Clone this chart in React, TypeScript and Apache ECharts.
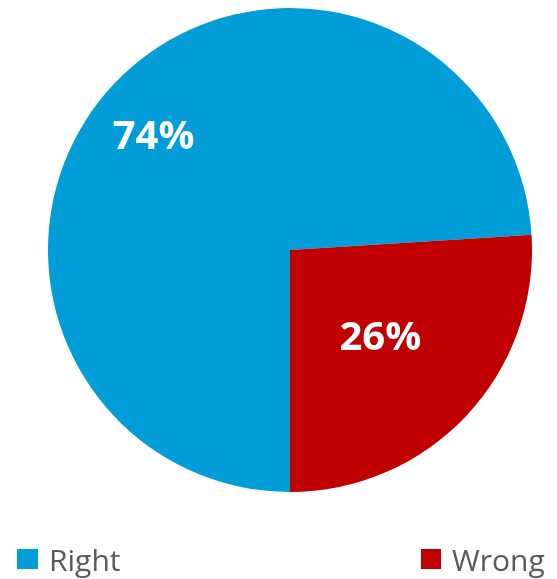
import React, { useEffect, useRef } from "react";
import * as echarts from "echarts";

const categories = ["Right", "Wrong"];
const values = [74, 26];
const colors = ["#009DD9", "#C00000"];

export default function App() {
  const ref = useRef<HTMLDivElement>(null);
  useEffect(() => {
    if (!ref.current) return;
    const chart = echarts.init(ref.current, null, { renderer: "svg" });
    const legendText = {
      color: "#595959",
      fontSize: 30,
      fontFamily: "Open Sans",
      lineHeight: 30,
      padding: [0, 0, 0, 6],
    };
    chart.setOption({
      animation: false,
      color: colors,
      legend: [
        {
          data: [categories[0]],
          left: 17,
          top: 544,
          padding: 0,
          itemWidth: 21,
          itemHeight: 20,
          icon: "rect",
          textStyle: legendText,
          selectedMode: false,
        },
        {
          data: [categories[1]],
          left: 421,
          top: 544,
          padding: 0,
          itemWidth: 20,
          itemHeight: 20,
          icon: "rect",
          textStyle: legendText,
          selectedMode: false,
        },
      ],
      series: [
        {
          type: "pie",
          center: [290, 250],
          radius: 242,
          startAngle: 270,
          clockwise: true,
          label: {
            show: true,
            position: "inside",
            color: "#ffffff",
            fontSize: 40,
            fontWeight: "bold",
            fontFamily: "Open Sans",
            formatter: (p: any) => Math.round(p.percent) + "%",
          },
          labelLine: { show: false },
          labelLayout: (params: any) => {
            if (params.dataIndex === 0) return { dx: -46, dy: -32 };
            return {};
          },
          emphasis: { disabled: true },
          itemStyle: { borderWidth: 0 },
          data: categories.map((c, i) => ({ name: c, value: values[i] })),
        },
      ],
    });
    return () => chart.dispose();
  }, []);
  return (
    <div
      ref={ref}
      style={{ position: "fixed", left: 0, top: 0, width: 557, height: 579 }}
    />
  );
}
